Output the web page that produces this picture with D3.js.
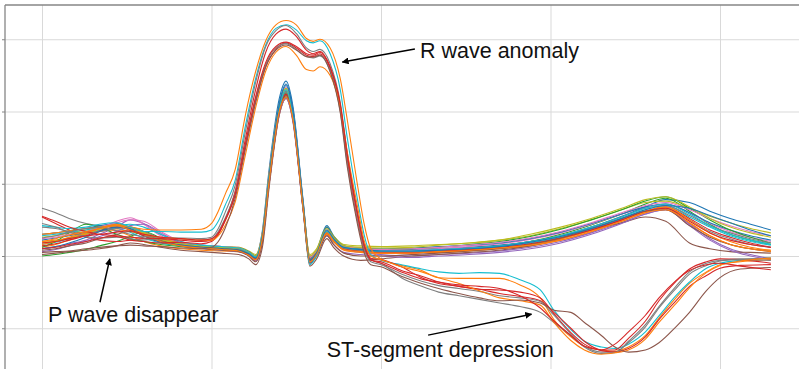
<!DOCTYPE html>
<html>
<head>
<meta charset="utf-8">
<script src="https://cdn.jsdelivr.net/npm/d3@7"></script>
<style>
  body { margin: 0; background: #fff; }
  svg { display: block; font-family: "Liberation Sans", Arial, sans-serif; }
</style>
</head>
<body>
<svg id="chart" width="799" height="369"></svg>
<script>
// sample positions (50 units per grid division)
const xNormal = [0,4,8,13,17,22,26,30,35,41,47,53,58,61,63,65,67,70,72,74,77,79,81,84,86,89,94,100,109,117,126,135,144,153,162,171,178,184,191,197,203,209,215];
const xAbnormal = [0,4,8,13,17,22,26,30,35,41,47,50,52,54,57,60,63,66,69,72,75,78,80,82,85,88,90,93,95,97,100,106,112,117,123,129,135,141,147,151,156,160,165,169,173,178,182,187,191,196,200,206,215];

// normal beats (one row per beat, values at xNormal)
const normalBeats = [
  [0.22,0.25,0.28,0.33,0.38,0.42,0.37,0.28,0.20,0.16,0.14,0.12,0.10, 0.05,0.00,0.35,1.20,2.18,2.42,2.08,0.78,-0.02,0.08,0.42,0.28,0.14, 0.10,0.08,0.09,0.10,0.12,0.15,0.20,0.28,0.40,0.55,0.68,0.78,0.74,0.62,0.52,0.44,0.36],
  [0.12,0.16,0.22,0.30,0.38,0.35,0.28,0.20,0.14,0.10,0.08,0.07,0.06, 0.02,-0.04,0.25,1.05,2.00,2.22,1.92,0.68,-0.06,0.04,0.34,0.22,0.10, 0.06,0.04,0.05,0.05,0.07,0.10,0.14,0.22,0.33,0.48,0.60,0.66,0.45,0.28,0.16,0.10,0.08],
  [0.00,0.02,0.05,0.09,0.14,0.20,0.27,0.34,0.25,0.15,0.11,0.10,0.09, 0.05,0.00,0.28,1.08,2.02,2.20,1.90,0.70,-0.04,0.06,0.30,0.20,0.11, 0.09,0.06,0.05,0.07,0.10,0.14,0.20,0.30,0.43,0.58,0.72,0.80,0.62,0.44,0.30,0.22,0.16],
  [0.54,0.45,0.36,0.26,0.22,0.20,0.22,0.24,0.20,0.15,0.12,0.10,0.08, 0.02,-0.06,0.22,1.00,1.98,2.24,1.95,0.70,-0.08,0.02,0.30,0.20,0.10, 0.07,0.05,0.04,0.06,0.08,0.11,0.16,0.24,0.36,0.50,0.62,0.68,0.52,0.36,0.26,0.18,0.12],
  [0.10,0.13,0.17,0.22,0.30,0.40,0.50,0.45,0.30,0.18,0.12,0.10,0.08, 0.02,-0.05,0.24,1.05,2.02,2.28,1.96,0.70,-0.05,0.05,0.34,0.22,0.09, 0.05,0.02,0.00,0.02,0.04,0.07,0.12,0.20,0.32,0.46,0.58,0.64,0.44,0.24,0.10,0.02,-0.04],
  [0.02,0.04,0.06,0.08,0.10,0.14,0.18,0.16,0.12,0.08,0.06,0.04,0.02, -0.04,-0.12,0.12,0.95,1.95,2.18,1.88,0.65,-0.14,-0.04,0.24,0.12,0.00, -0.06,-0.04,0.00,0.02,0.05,0.08,0.14,0.24,0.36,0.46,0.54,0.48,0.18,0.10,0.06,0.05,0.04],
  [0.18,0.20,0.24,0.30,0.38,0.48,0.53,0.44,0.28,0.18,0.15,0.13,0.12, 0.06,0.00,0.32,1.15,2.10,2.34,2.02,0.75,0.00,0.08,0.36,0.24,0.12, 0.10,0.08,0.08,0.10,0.13,0.17,0.23,0.32,0.44,0.58,0.68,0.72,0.60,0.45,0.34,0.26,0.20],
  [0.66,0.60,0.52,0.45,0.42,0.42,0.40,0.34,0.24,0.18,0.15,0.13,0.11, 0.05,-0.02,0.28,1.10,2.05,2.28,1.96,0.72,-0.02,0.06,0.32,0.22,0.12, 0.08,0.06,0.05,0.07,0.09,0.12,0.18,0.26,0.38,0.52,0.62,0.66,0.50,0.34,0.24,0.16,0.12],
  [0.26,0.28,0.32,0.36,0.40,0.44,0.40,0.32,0.22,0.16,0.14,0.13,0.12, 0.07,0.02,0.32,1.14,2.10,2.32,2.00,0.74,0.02,0.10,0.40,0.28,0.16, 0.14,0.13,0.14,0.16,0.18,0.22,0.28,0.38,0.50,0.64,0.74,0.76,0.66,0.55,0.46,0.38,0.32],
  [0.16,0.19,0.24,0.30,0.36,0.38,0.33,0.25,0.18,0.14,0.12,0.11,0.09, 0.03,-0.03,0.26,1.08,2.05,2.26,1.94,0.68,-0.10,0.02,0.32,0.21,0.10, 0.08,0.06,0.06,0.08,0.10,0.13,0.18,0.26,0.37,0.52,0.64,0.70,0.54,0.40,0.28,0.20,0.15],
  [0.30,0.32,0.35,0.38,0.42,0.45,0.38,0.28,0.19,0.15,0.13,0.12,0.11, 0.06,0.00,0.30,1.14,2.12,2.38,2.04,0.76,-0.04,0.06,0.40,0.27,0.14, 0.11,0.10,0.11,0.13,0.15,0.18,0.24,0.33,0.45,0.58,0.68,0.72,0.60,0.46,0.36,0.28,0.22],
  [0.20,0.22,0.25,0.30,0.34,0.36,0.34,0.30,0.24,0.18,0.13,0.10,0.08, 0.02,-0.06,0.22,1.00,1.96,2.18,1.88,0.66,-0.08,0.02,0.30,0.20,0.08, 0.05,0.04,0.05,0.06,0.08,0.11,0.16,0.24,0.35,0.50,0.62,0.68,0.50,0.32,0.20,0.12,0.08],
  [0.12,0.20,0.32,0.44,0.40,0.30,0.24,0.20,0.16,0.13,0.11,0.10,0.08, 0.03,-0.02,0.28,1.10,2.06,2.26,1.94,0.70,-0.04,0.06,0.34,0.22,0.12, 0.10,0.09,0.10,0.12,0.16,0.20,0.27,0.37,0.50,0.64,0.76,0.82,0.66,0.50,0.36,0.26,0.18],
  [0.14,0.17,0.22,0.28,0.35,0.40,0.36,0.28,0.20,0.15,0.12,0.10,0.08, 0.02,-0.04,0.25,1.06,2.02,2.24,1.92,0.68,-0.06,0.04,0.32,0.22,0.10, 0.07,0.05,0.05,0.07,0.09,0.12,0.17,0.25,0.36,0.50,0.62,0.66,0.48,0.32,0.22,0.16,0.12],
  [0.06,0.09,0.14,0.20,0.27,0.34,0.42,0.44,0.32,0.18,0.11,0.08,0.06, 0.00,-0.07,0.20,1.00,1.96,2.18,1.86,0.64,-0.10,0.00,0.28,0.16,0.05, 0.02,0.00,-0.02,0.00,0.02,0.05,0.10,0.18,0.30,0.45,0.58,0.64,0.42,0.22,0.08,0.00,-0.05],
  [0.08,0.10,0.14,0.18,0.24,0.30,0.34,0.30,0.22,0.14,0.10,0.08,0.06, 0.00,-0.08,0.18,1.00,1.98,2.22,1.90,0.66,-0.10,0.00,0.28,0.16,0.04, 0.00,0.00,0.02,0.04,0.07,0.10,0.16,0.25,0.38,0.52,0.62,0.64,0.42,0.26,0.16,0.10,0.06],
  [0.24,0.26,0.30,0.34,0.40,0.46,0.50,0.48,0.34,0.20,0.15,0.13,0.11, 0.05,-0.01,0.30,1.12,2.08,2.30,1.98,0.72,-0.02,0.07,0.36,0.24,0.13, 0.11,0.09,0.10,0.12,0.15,0.19,0.25,0.34,0.46,0.60,0.70,0.74,0.64,0.52,0.42,0.34,0.28],
  [0.40,0.38,0.34,0.32,0.34,0.38,0.40,0.34,0.24,0.17,0.14,0.12,0.10, 0.04,-0.02,0.27,1.08,2.04,2.27,1.95,0.70,-0.04,0.05,0.33,0.22,0.11, 0.08,0.06,0.06,0.08,0.11,0.14,0.20,0.28,0.40,0.54,0.66,0.70,0.56,0.42,0.32,0.24,0.18],
  [0.18,0.21,0.25,0.31,0.37,0.43,0.40,0.33,0.23,0.17,0.14,0.12,0.11, 0.05,0.00,0.30,1.12,2.08,2.30,1.98,0.72,0.00,0.08,0.38,0.26,0.14, 0.12,0.11,0.12,0.15,0.18,0.22,0.30,0.40,0.52,0.66,0.78,0.82,0.68,0.52,0.40,0.32,0.26],
  [0.28,0.30,0.33,0.36,0.40,0.42,0.44,0.40,0.30,0.20,0.15,0.13,0.11, 0.05,-0.01,0.28,1.10,2.06,2.30,1.98,0.72,-0.12,0.00,0.34,0.23,0.12, 0.09,0.07,0.07,0.09,0.11,0.14,0.20,0.28,0.40,0.54,0.66,0.72,0.58,0.42,0.30,0.22,0.16],
  [0.10,0.13,0.18,0.26,0.34,0.40,0.38,0.30,0.20,0.15,0.12,0.10,0.08, 0.03,-0.03,0.28,1.10,2.10,2.36,2.02,0.74,-0.06,0.04,0.36,0.24,0.12, 0.09,0.07,0.07,0.08,0.10,0.13,0.19,0.27,0.38,0.52,0.64,0.70,0.66,0.56,0.46,0.36,0.28],
  [0.16,0.20,0.26,0.32,0.38,0.44,0.40,0.30,0.20,0.14,0.11,0.09,0.07, 0.01,-0.05,0.24,1.04,2.00,2.20,1.90,0.68,-0.08,0.02,0.32,0.21,0.09, 0.06,0.04,0.04,0.06,0.08,0.11,0.15,0.22,0.34,0.48,0.60,0.64,0.46,0.28,0.16,0.10,0.06]
];

// abnormal beats: wide R wave + ST-segment depression (values at xAbnormal)
const abnormalBeats = [
  [0.30,0.32,0.35,0.38,0.40,0.42,0.40,0.37,0.36,0.36,0.37, 0.45,0.62,0.85,1.20,1.95,2.55,2.98,3.20,3.26,3.20,3.01,2.97,3.00,2.88,2.45,1.90,1.00,0.45,0.10, -0.04,-0.13,-0.20,-0.30,-0.31,-0.31,-0.31,-0.40,-0.58,-0.88,-1.12,-1.25,-1.30,-1.32,-1.26,-1.10,-0.86,-0.58,-0.38,-0.22,-0.12,-0.08,-0.05],
  [0.42,0.40,0.38,0.40,0.44,0.46,0.40,0.34,0.34,0.33,0.33, 0.36,0.48,0.70,1.05,1.80,2.45,2.92,3.15,3.20,3.13,2.98,2.95,2.98,2.80,2.30,1.65,0.80,0.30,0.02, -0.06,-0.12,-0.18,-0.22,-0.24,-0.23,-0.24,-0.33,-0.47,-0.75,-1.02,-1.18,-1.26,-1.28,-1.22,-1.05,-0.83,-0.55,-0.36,-0.17,-0.10,-0.06,-0.03],
  [0.45,0.40,0.33,0.27,0.25,0.26,0.24,0.22,0.24,0.25,0.24, 0.26,0.38,0.60,0.98,1.72,2.40,2.90,3.12,3.19,3.08,2.88,2.83,2.86,2.66,2.12,1.45,0.62,0.18,-0.05, -0.10,-0.30,-0.42,-0.50,-0.55,-0.60,-0.65,-0.70,-0.78,-0.92,-1.10,-1.25,-1.33,-1.33,-1.20,-0.98,-0.72,-0.45,-0.25,-0.13,-0.07,-0.04,-0.03],
  [0.10,0.12,0.16,0.20,0.25,0.27,0.22,0.20,0.18,0.19,0.17, 0.20,0.30,0.50,0.90,1.62,2.30,2.82,3.07,3.14,3.04,2.85,2.80,2.83,2.60,2.05,1.35,0.50,0.12,-0.06, -0.08,-0.20,-0.28,-0.36,-0.42,-0.46,-0.47,-0.50,-0.58,-0.80,-1.06,-1.22,-1.31,-1.33,-1.28,-1.12,-0.88,-0.62,-0.42,-0.27,-0.17,-0.13,-0.12],
  [0.55,0.48,0.40,0.34,0.30,0.28,0.26,0.25,0.24,0.22,0.20, 0.22,0.30,0.48,0.85,1.52,2.15,2.62,2.86,2.95,2.88,2.78,2.76,2.80,2.60,2.08,1.40,0.58,0.15,-0.03, -0.05,-0.15,-0.30,-0.38,-0.42,-0.46,-0.52,-0.56,-0.62,-0.78,-1.00,-1.18,-1.30,-1.30,-1.14,-0.90,-0.62,-0.35,-0.18,-0.08,-0.04,-0.05,-0.10],
  [0.25,0.28,0.33,0.38,0.40,0.35,0.30,0.27,0.26,0.24,0.22, 0.24,0.34,0.52,0.88,1.55,2.18,2.65,2.88,2.94,2.86,2.76,2.74,2.77,2.56,2.00,1.30,0.50,0.10,-0.08, -0.12,-0.25,-0.35,-0.41,-0.45,-0.49,-0.55,-0.58,-0.63,-0.82,-1.08,-1.26,-1.35,-1.34,-1.18,-0.95,-0.70,-0.42,-0.22,-0.10,-0.06,-0.05,-0.06],
  [0.20,0.24,0.29,0.34,0.38,0.42,0.36,0.30,0.26,0.24,0.22, 0.22,0.28,0.42,0.75,1.40,2.05,2.56,2.82,2.90,2.78,2.58,2.56,2.62,2.50,2.05,1.45,0.70,0.22,0.00, -0.05,-0.15,-0.22,-0.30,-0.38,-0.48,-0.58,-0.62,-0.68,-0.92,-1.17,-1.30,-1.36,-1.34,-1.30,-1.15,-0.92,-0.66,-0.44,-0.23,-0.13,-0.07,-0.03],
  [0.05,0.06,0.07,0.10,0.12,0.14,0.15,0.14,0.13,0.11,0.10, 0.12,0.20,0.38,0.80,1.48,2.12,2.62,2.85,2.92,2.85,2.76,2.75,2.78,2.55,1.98,1.25,0.45,0.05,-0.12, -0.15,-0.28,-0.38,-0.45,-0.52,-0.58,-0.62,-0.61,-0.65,-0.75,-0.78,-0.92,-1.10,-1.26,-1.33,-1.30,-1.20,-0.98,-0.78,-0.48,-0.30,-0.18,-0.16],
  [0.18,0.20,0.24,0.28,0.30,0.33,0.35,0.30,0.26,0.24,0.22, 0.24,0.32,0.50,0.86,1.55,2.20,2.68,2.90,2.96,2.90,2.80,2.78,2.82,2.62,2.10,1.42,0.60,0.15,-0.05, -0.10,-0.22,-0.32,-0.36,-0.40,-0.42,-0.45,-0.55,-0.72,-0.90,-1.10,-1.25,-1.30,-1.22,-1.05,-0.82,-0.58,-0.34,-0.20,-0.12,-0.10,-0.14,-0.19]
];

const xTicks = [0, 50, 100, 150, 200];
const yTicks = [-1, 0, 1, 2, 3];

// annotations in data coordinates
const notes = [
  { text: 'R wave anomaly', at: [111.5, 2.74], from: [110, 2.865], to: [88.6, 2.685] },
  { text: 'P wave disappear', at: [1.8, -0.915], from: [17.1, -0.64], to: [20.0, -0.04] },
  { text: 'ST-segment depression', at: [84.0, -1.40], from: [113.9, -1.095], to: [144.4, -0.805] }
];

const W = 799, H = 369, padLeft = 5, padTop = 5;
const palette = d3.schemeCategory10;
const abnormalColors = [palette[1], palette[9], palette[7], palette[3], palette[3], palette[7], palette[1], palette[5], palette[3]];

const x = d3.scaleLinear().domain([0, 200]).range([42, 720]);
const y = d3.scaleLinear().domain([-1, 3]).range([328.25, 39.25]);

const svg = d3.select('#chart');

// gridlines
svg.append('g')
  .attr('transform', `translate(${padLeft},0)`)
  .call(d3.axisLeft(y).tickValues(yTicks).tickSize(-(W - padLeft)).tickFormat(''))
  .call(g => g.select('.domain').remove())
  .call(g => g.selectAll('line').attr('stroke', '#d9d9d9').attr('stroke-width', 1));

svg.append('g')
  .attr('transform', `translate(0,${padTop})`)
  .call(d3.axisTop(x).tickValues(xTicks).tickSize(-(H - padTop)).tickFormat(''))
  .call(g => g.select('.domain').remove())
  .call(g => g.selectAll('line').attr('stroke', '#d9d9d9').attr('stroke-width', 1));

// left axis with small ticks, and top border
svg.append('g')
  .attr('transform', `translate(${padLeft},0)`)
  .call(d3.axisLeft(y).tickValues(yTicks).tickSize(3).tickFormat(''))
  .call(g => g.select('.domain').remove())
  .call(g => g.selectAll('line').attr('stroke', '#868686'));

svg.append('line')
  .attr('x1', padLeft).attr('x2', padLeft).attr('y1', padTop).attr('y2', H)
  .attr('stroke', '#868686').attr('stroke-width', 1.3);
svg.append('line')
  .attr('x1', padLeft).attr('x2', W).attr('y1', padTop).attr('y2', padTop)
  .attr('stroke', '#868686').attr('stroke-width', 1.3);

// beats
const line = xs => d3.line()
  .defined((d, i) => xs[i] != null && d != null)
  .x((d, i) => x(xs[i]))
  .y(d => y(d))
  .curve(d3.curveMonotoneX);

const plot = svg.append('g').attr('fill', 'none').attr('stroke-width', 1.1);

plot.selectAll('path.normal')
  .data(normalBeats)
  .join('path')
  .attr('class', 'normal')
  .attr('stroke', (d, i) => palette[i % 10])
  .attr('d', line(xNormal));

plot.selectAll('path.abnormal')
  .data(abnormalBeats)
  .join('path')
  .attr('class', 'abnormal')
  .attr('stroke', (d, i) => abnormalColors[i])
  .attr('d', line(xAbnormal));

// arrows + labels
svg.append('defs').append('marker')
  .attr('id', 'head')
  .attr('viewBox', '0 0 10 10')
  .attr('refX', 9).attr('refY', 5)
  .attr('markerWidth', 7).attr('markerHeight', 7)
  .attr('markerUnits', 'userSpaceOnUse')
  .attr('orient', 'auto')
  .append('path')
  .attr('d', 'M0,0 L10,5 L0,10 Z')
  .attr('fill', '#000');

const ann = svg.append('g');
notes.forEach(n => {
  ann.append('line')
    .attr('x1', x(n.from[0])).attr('y1', y(n.from[1]))
    .attr('x2', x(n.to[0])).attr('y2', y(n.to[1]))
    .attr('stroke', '#000').attr('stroke-width', 1.5)
    .attr('marker-end', 'url(#head)');
  ann.append('text')
    .attr('x', x(n.at[0])).attr('y', y(n.at[1]))
    .attr('font-size', 21.5)
    .attr('fill', '#111')
    .text(n.text);
});
</script>
</body>
</html>
